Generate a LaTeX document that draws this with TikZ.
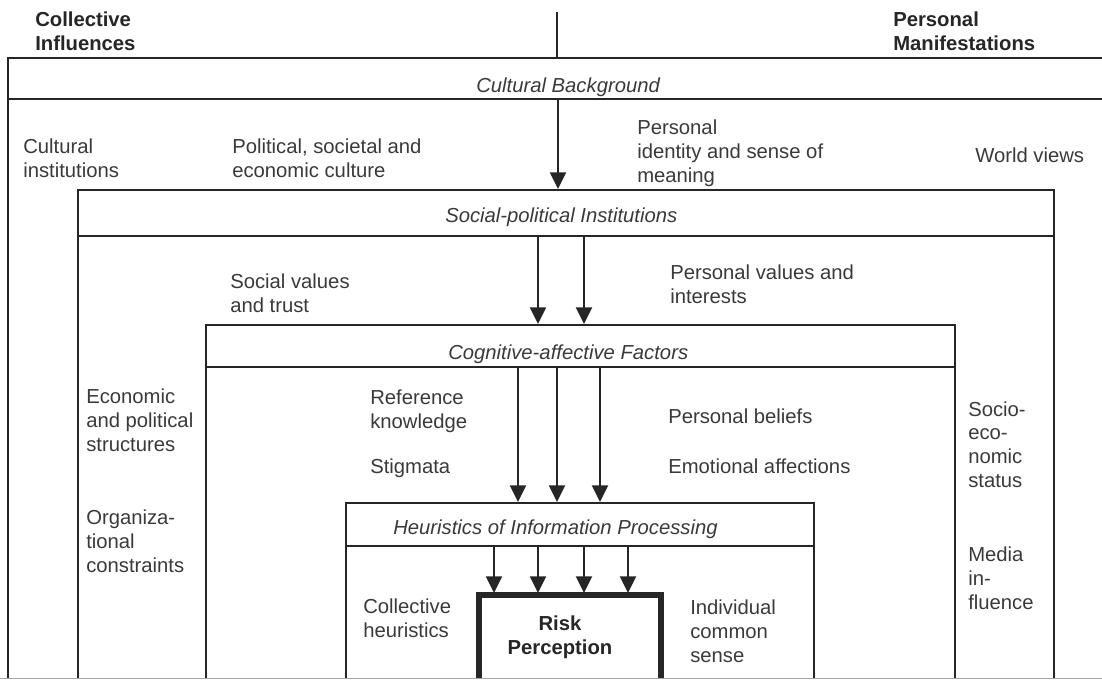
\documentclass[tikz,border=0pt]{standalone}
\usepackage{fontspec}
\setmainfont{Liberation Sans}
\usetikzlibrary{arrows.meta}
\definecolor{ink}{HTML}{3A3A3A}
\definecolor{rule}{HTML}{262626}
\tikzset{
	frame/.style={draw=rule, line width=2pt},
	flow/.style={draw=rule, line width=1.5pt, -{Triangle[length=12.5pt,width=12pt]}},
	txt/.style={anchor=base west, align=left, inner sep=0pt, text=ink, font=\fontsize{15.2}{17.7}\selectfont},
	title/.style={txt, font=\fontsize{15.2}{17.7}\selectfont\itshape},
	head/.style={txt, text=black!85, font=\fontsize{15.2}{17.7}\selectfont\bfseries},
}
\begin{document}
\begin{tikzpicture}[x=0.75pt, y=-0.75pt]
	\useasboundingbox (0,0) rectangle (1102,679);
	\fill[white] (0,0) rectangle (1102,679);

	% column heads (y = baseline of last line)
	\node[head] (collective) at (35,50) {Collective\\Influences};
	\node[head] (personal) at (893,50) {Personal\\Manifestations};
	\draw[rule, line width=1.5pt] (557,12) -- (557,58);

	% nested frames, open at the bottom
	\draw[frame] (1102,58) -- (8,58) -- (8,679);
	\draw[frame] (8,99) -- (1102,99);
	\draw[frame] (78,679) -- (78,190) -- (1054,190) -- (1054,679);
	\draw[frame] (78,236) -- (1054,236);
	\draw[frame] (206,679) -- (206,325) -- (955,325) -- (955,679);
	\draw[frame] (206,367) -- (955,367);
	\draw[frame] (346,679) -- (346,503) -- (814,503) -- (814,679);
	\draw[frame] (346,546) -- (814,546);
	\draw[rule, line width=3.8pt] (479,679) -- (479,595) -- (661,595) -- (661,679);
	\draw[black!35, line width=0.8pt] (0,678.5) -- (1102,678.5);

	% level titles
	\node[title] (cultural) at (476,92) {Cultural Background};
	\node[title] (sociopol) at (445,222) {Social-political Institutions};
	\node[title] (cognitive) at (448,359) {Cognitive-affective Factors};
	\node[title] (heuristics) at (393,534) {Heuristics of Information Processing};

	% level 1
	\node[txt] (institutions) at (23,177) {Cultural\\institutions};
	\node[txt] (polculture) at (232,177) {Political, societal and\\economic culture};
	\node[txt] (identity) at (637,182) {Personal\\identity and sense of\\meaning};
	\node[txt] (worldviews) at (975,162) {World views};

	% level 2
	\node[txt] (socialvalues) at (230,312) {Social values\\and trust};
	\node[txt] (persvalues) at (670,303) {Personal values and\\interests};
	\node[txt] (structures) at (86,451) {Economic\\and political\\structures};
	\node[txt] (constraints) at (86,572) {Organiza-\\tional\\constraints};
	\node[txt] (socioeco) at (968,487) {Socio-\\eco-\\nomic\\status};
	\node[txt] (media) at (968,609) {Media\\in-\\fluence};

	% level 3
	\node[txt] (reference) at (370,428) {Reference\\knowledge};
	\node[txt] (stigmata) at (370,473) {Stigmata};
	\node[txt] (beliefs) at (668,423) {Personal beliefs};
	\node[txt] (emotions) at (668,473) {Emotional affections};

	% level 4
	\node[txt] (collheur) at (363,637) {Collective\\heuristics};
	\node[txt] (commonsense) at (690,662) {Individual\\common\\sense};
	\node[head, anchor=base, align=center] (risk) at (560,654) {Risk\\Perception};

	% arrows between levels
	\coordinate (c0) at (558,100);
	\coordinate (d0) at (558,189);
	\draw[flow] (c0) -- (d0);
	\foreach \x [count=\i] in {538,584} {
		\coordinate (s\i) at (\x,237);
		\coordinate (t\i) at (\x,324);
		\draw[flow] (s\i) -- (t\i);
	}
	\foreach \x [count=\i] in {518,557,600} {
		\coordinate (u\i) at (\x,368);
		\coordinate (v\i) at (\x,502);
		\draw[flow] (u\i) -- (v\i);
	}
	\foreach \x [count=\i] in {494,538,584,628} {
		\coordinate (h\i) at (\x,547);
		\coordinate (r\i) at (\x,593);
		\draw[flow] (h\i) -- (r\i);
	}
\end{tikzpicture}
\end{document}
